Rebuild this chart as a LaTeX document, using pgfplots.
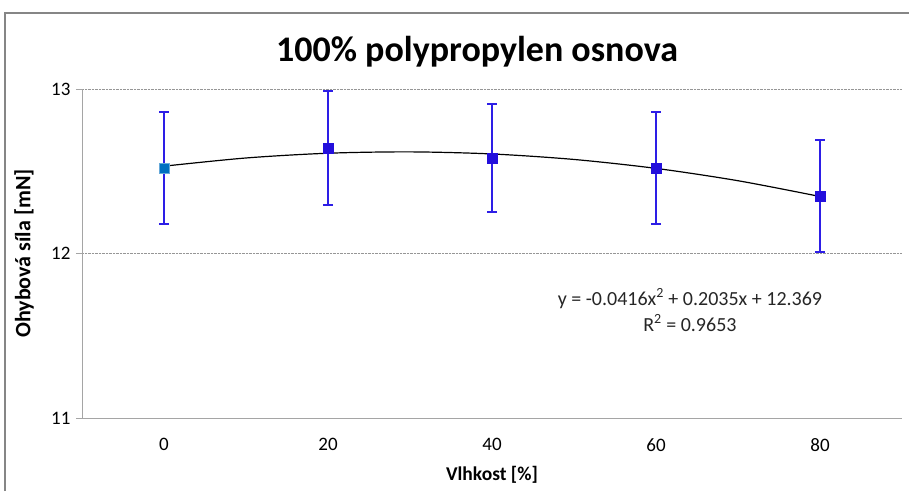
\documentclass[border=0pt]{standalone}
\usepackage{pgfplots}
\pgfplotsset{compat=1.18}
\usepackage{fontspec}
\setmainfont{Carlito}
\definecolor{errblue}{RGB}{45,30,230}
\definecolor{mkblue}{RGB}{35,15,220}
\definecolor{mkfirst}{RGB}{0,112,192}
\definecolor{framegray}{RGB}{134,134,134}
\definecolor{axgray}{RGB}{165,165,165}
\definecolor{gridgray}{RGB}{150,150,150}
\begin{document}
\begin{tikzpicture}[x=1pt,y=1pt]
\useasboundingbox (0,0) rectangle (909,491);
\draw[framegray, line width=2pt] (5,0) -- (5,478) -- (909,478);
\begin{axis}[
  at={(82pt,73pt)}, anchor=south west,
  scale only axis, width=820pt, height=329pt,
  xmin=0.5, xmax=5.5, ymin=11, ymax=13,
  clip=false,
  axis x line*=bottom, axis y line*=left,
  axis line style={axgray, line width=1pt},
  xtick={1,2,3,4,5}, xticklabels={0,20,40,60,80},
  major x tick style={draw=none},
  extra x ticks={0.5,1.5,2.5,3.5,4.5,5.5}, extra x tick labels={},
  extra x tick style={grid=none, major tick length=7pt, tick align=outside, major tick style={draw=axgray, line width=1pt}},
  ytick={11,12,13},
  y tick style={axgray, line width=1pt},
  major tick length=6pt, tick align=outside,
  ymajorgrids, grid style={gridgray, densely dotted, line width=0.8pt},
  /pgf/number format/assume math mode=true,
  ticklabel style={font=\fontsize{19}{22}\selectfont, text=black},
  yticklabel style={xshift=-2pt},
  xticklabel style={yshift=-11pt},
  title={100\% polypropylen osnova},
  title style={at={(axis description cs:0.4817,1.094)}, anchor=center, font=\bfseries\fontsize{36}{40}\selectfont},
  xlabel={Vlhkost [\%]},
  xlabel style={at={(axis description cs:0.5,-0.173)}, anchor=center, font=\bfseries\fontsize{19.5}{22}\selectfont},
  ylabel={Ohybová síla [mN]},
  ylabel style={at={(axis description cs:-0.0707,0.5)}, anchor=center, font=\bfseries\fontsize{22}{24}\selectfont},
]
\addplot[only marks, mark=square*, mark size=5pt, mkblue,
  error bars/.cd, y dir=both, y explicit,
  error bar style={errblue, line width=2pt},
  error mark options={errblue, line width=2pt, mark size=5pt, rotate=90}]
  table[x=x, y=y, y error=err] {
x y err
1 12.52 0.34
2 12.64 0.345
3 12.58 0.33
4 12.52 0.34
5 12.35 0.34
};
\addplot[only marks, mark=square*, mark size=5pt, mark options={fill=mkfirst, draw=mkfirst!60!white}] coordinates {(1,12.52)};
\addplot[errblue, line width=1.5pt, forget plot] coordinates {(1,12.42) (1,12.62)};
\addplot[black, line width=1.2pt, smooth] coordinates {
(1,12.5309) (1.5,12.5807) (2,12.6096) (2.5,12.6178) (3,12.6051) (3.5,12.5717) (4,12.5174) (4.5,12.4424) (5,12.3465)};
\node[align=center, font=\fontsize{20}{26}\selectfont, text=black!85] at (axis cs:4.207,11.657) {y = -0.0416x\textsuperscript{2} + 0.2035x + 12.369\\R\textsuperscript{2} = 0.9653};
\end{axis}
\end{tikzpicture}
\end{document}
